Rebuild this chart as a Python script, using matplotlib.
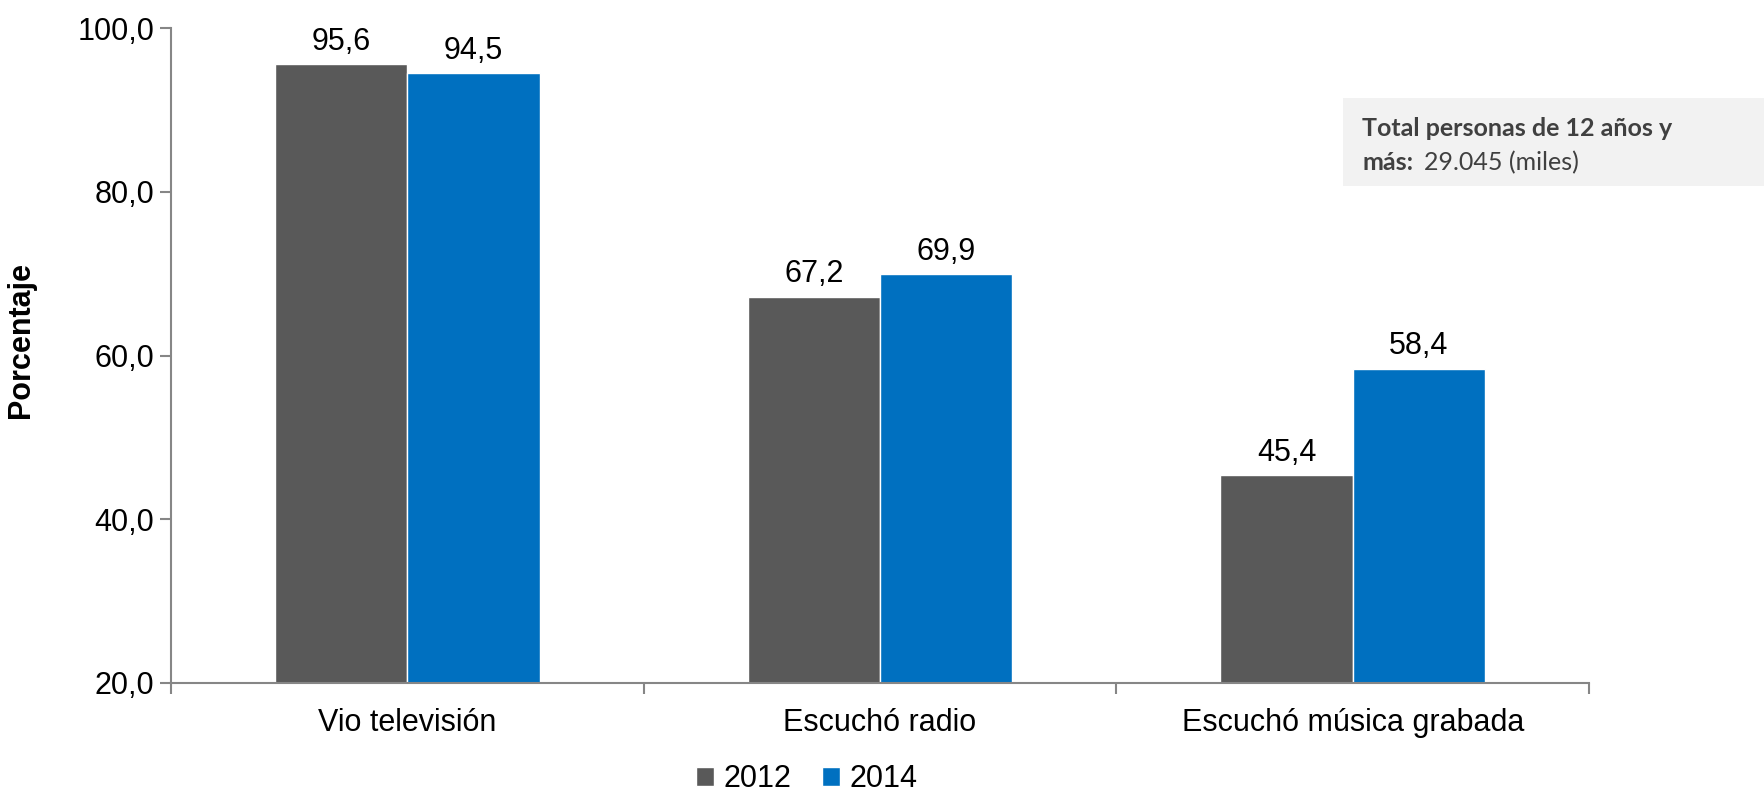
import matplotlib.pyplot as plt
import numpy as np
from matplotlib.patches import Rectangle

categorias = ['Vio televisión', 'Escuchó radio', 'Escuchó música grabada']
valores_2012 = [95.6, 67.2, 45.4]
valores_2014 = [94.5, 69.9, 58.4]
anios = ['2012', '2014']
y_ticks = [20, 40, 60, 80, 100]

gris = '#595959'
azul = '#0070C0'
eje = '#868686'

plt.rcParams['font.family'] = ['Liberation Sans', 'DejaVu Sans']

fig = plt.figure(figsize=(17.65, 7.94), dpi=100)
ax = fig.add_axes([0.0969, 0.1398, 0.8034, 0.8249])

x = np.arange(len(categorias))
w = 0.28
b1 = ax.bar(x - w / 2, valores_2012, w, color=gris, edgecolor='white', linewidth=1, label=anios[0])
b2 = ax.bar(x + w / 2, valores_2014, w, color=azul, edgecolor='white', linewidth=1, label=anios[1])

for bars, vals in ((b1, valores_2012), (b2, valores_2014)):
    for r, v in zip(bars, vals):
        ax.text(r.get_x() + r.get_width() / 2, v + 0.9, f'{v:.1f}'.replace('.', ','),
                ha='center', va='bottom', fontsize=22)

ax.set_xlim(-0.5, len(categorias) - 0.5)
ax.set_ylim(20, 100)
ax.set_yticks(y_ticks)
ax.set_yticklabels([f'{t:.1f}'.replace('.', ',') for t in y_ticks], fontsize=22)
ax.set_xticks(x)
ax.set_xticklabels(categorias, fontsize=22)
ax.tick_params(axis='x', length=0, pad=18)
ax.set_xticks(np.arange(-0.5, len(categorias)), minor=True)
ax.tick_params(axis='x', which='minor', length=8, color=eje, width=1.5)
ax.tick_params(axis='y', length=8, color=eje, width=1.5, pad=4)
for s in ('top', 'right'):
    ax.spines[s].set_visible(False)
for s in ('left', 'bottom'):
    ax.spines[s].set_color(eje)
    ax.spines[s].set_linewidth(1.5)

ax.set_ylabel('Porcentaje', fontsize=22, fontweight='bold', labelpad=22)
ax.yaxis.set_label_coords(-0.095, 0.524)

ax.legend(loc='center', bbox_to_anchor=(0.448, -0.147), ncol=2, frameon=False,
          fontsize=22, handlelength=0.6, handleheight=0.6, handletextpad=0.3, columnspacing=1.0)

# cuadro de texto
fig.patches.append(Rectangle((0.761, 0.7657), 0.239, 0.111, transform=fig.transFigure,
                             facecolor='#F2F2F2', edgecolor='none', zorder=0))
caja_font = ['Lato', 'DejaVu Sans']
fig.text(0.7717, 1 - 136 / 794, 'Total personas de 12 años y', fontsize=18, fontweight='bold',
         color='#404040', family=caja_font, va='baseline')
t = fig.text(0.7717, 1 - 170 / 794, 'más:', fontsize=18, fontweight='bold',
             color='#404040', family=caja_font, va='baseline')
fig.canvas.draw()
bb = t.get_window_extent().transformed(fig.transFigure.inverted())
fig.text(bb.x1 + 0.006, 1 - 170 / 794, '29.045 (miles)', fontsize=18,
         color='#404040', family=caja_font, va='baseline')

fig.savefig('out.png', dpi=100)
